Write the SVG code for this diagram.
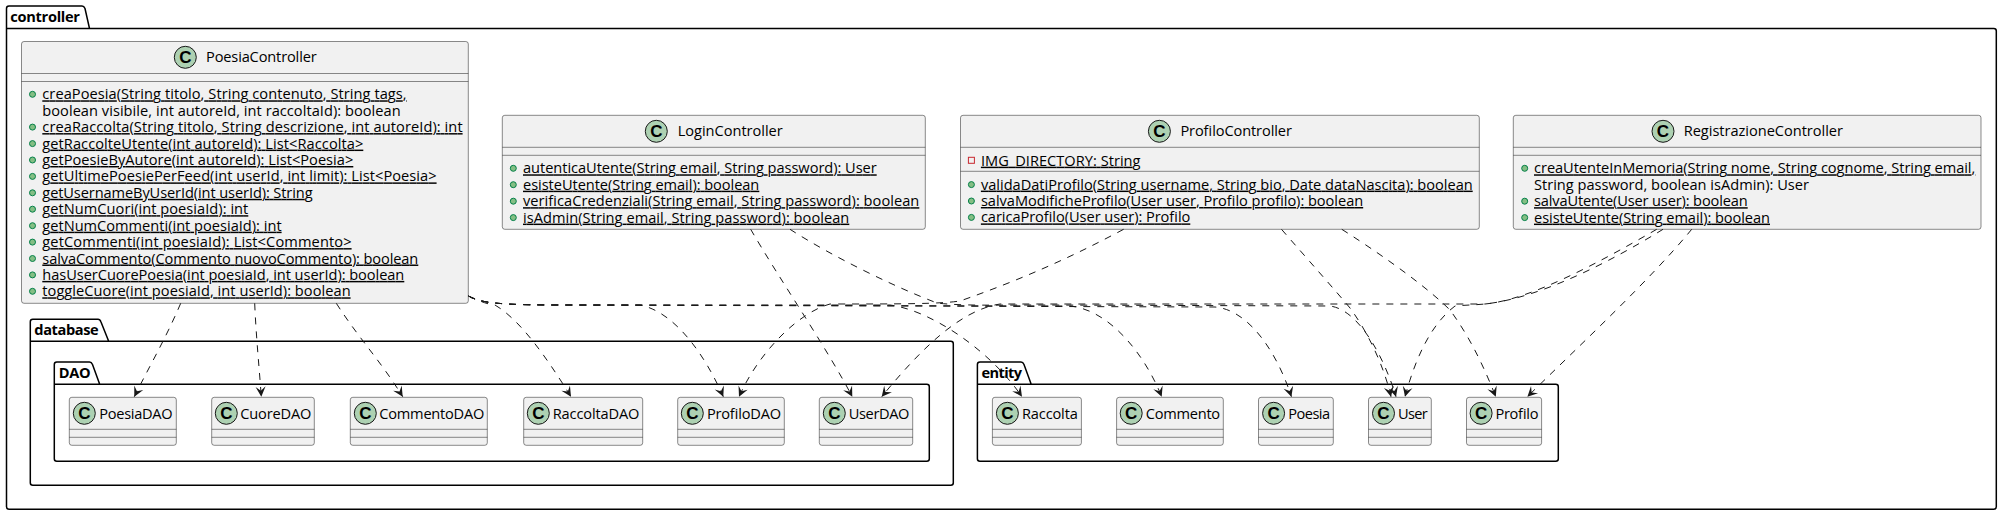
<svg xmlns="http://www.w3.org/2000/svg" width="2004" height="515" viewBox="0 0 2004 515">
<style>
text{font-family:"Open Sans","Noto Sans","Liberation Sans",sans-serif;font-size:14.6px;fill:#000}
.pk{fill:none;stroke:#000;stroke-width:1.5}
.pl{font-weight:700;font-size:14.6px}
.box{fill:#F1F1F1;stroke:#181818;stroke-width:.5}
.sep{stroke:#181818;stroke-width:.5}
.ci{fill:#ADD1B2;stroke:#181818;stroke-width:1}
.cg{font-family:"Liberation Sans",sans-serif;font-weight:700;font-size:17px;text-anchor:middle}
.u{text-decoration:underline;text-decoration-skip-ink:none;text-decoration-thickness:1px;text-underline-offset:1.5px}
.pub{fill:#84BE84;stroke:#038048;stroke-width:1}
.pri{fill:none;stroke:#C82930;stroke-width:1}
.e{fill:none;stroke:#181818;stroke-width:1;stroke-dasharray:7,7;marker-end:url(#a)}
</style>
<defs>
<marker id="a" markerUnits="userSpaceOnUse" markerWidth="12" markerHeight="12" refX="11" refY="6" orient="auto">
<path d="M1,1 L11,6 L1,11 L5,6 Z" fill="#181818"/>
</marker>
</defs>
<rect width="2004" height="515" fill="#fff"/>
<g id="pkg-controller">
<path class="pk" d="M9,6 H82 Q84,6 85,8.5 L89.5,28.5 H1993.8 Q1996.3,28.5 1996.3,31 V506.8 Q1996.3,509.3 1993.8,509.3 H9 Q6.5,509.3 6.5,506.8 V8.5 Q6.5,6 9,6 Z M6.5,28.5 H89.5"/>
<text class="pl" x="10.3" y="21.7" textLength="69.7">controller</text>
</g>
<g id="pkg-database">
<path class="pk" d="M32.8,319.3 H98 Q100,319.3 101,322 L108.7,341.3 H950.8 Q953.3,341.3 953.3,343.8 V482.8 Q953.3,485.3 950.8,485.3 H32.8 Q30.3,485.3 30.3,482.8 V321.8 Q30.3,319.3 32.8,319.3 Z M30.3,341.3 H108.7"/>
<text class="pl" x="34.3" y="335" textLength="64.3">database</text>
</g>
<g id="pkg-DAO">
<path class="pk" d="M56.8,362 H89.5 Q91.5,362 92.5,364.5 L99.7,384.3 H926.8 Q929.3,384.3 929.3,386.8 V458.8 Q929.3,461.3 926.8,461.3 H56.8 Q54.3,461.3 54.3,458.8 V364.5 Q54.3,362 56.8,362 Z M54.3,384.3 H99.7"/>
<text class="pl" x="58.7" y="378" textLength="32">DAO</text>
</g>
<g id="pkg-entity">
<path class="pk" d="M979.9,362 H1021 Q1023,362 1024,364.5 L1031.2,384.3 H1555.8 Q1558.3,384.3 1558.3,386.8 V458.8 Q1558.3,461.3 1555.8,461.3 H979.9 Q977.4,461.3 977.4,458.8 V364.5 Q977.4,362 979.9,362 Z M977.4,384.3 H1031.2"/>
<text class="pl" x="981.4" y="378" textLength="40.7">entity</text>
</g>

<g id="PoesiaController">
<rect class="box" x="21.5" y="41.5" width="446.8" height="261.8" rx="2.5"/>
<line class="sep" x1="21.5" y1="73.5" x2="468.3" y2="73.5"/><line class="sep" x1="21.5" y1="81.5" x2="468.3" y2="81.5"/>
<circle class="ci" cx="185.3" cy="57.3" r="11"/><text class="cg" x="185.3" y="63.3">C</text>
<text x="206" y="62.3" textLength="110.7">PoesiaController</text>
<circle class="pub" cx="32.5" cy="94.3" r="3"/><text class="u" x="42.3" y="99.3" textLength="364.3">creaPoesia(String titolo, String contenuto, String tags,</text>
<text x="42.3" y="115.7" textLength="358.3">boolean visibile, int autoreId, int raccoltaId): boolean</text>
<circle class="pub" cx="32.5" cy="127.1" r="3"/><text class="u" x="42.3" y="132.1" textLength="420.3">creaRaccolta(String titolo, String descrizione, int autoreId): int</text>
<circle class="pub" cx="32.5" cy="143.6" r="3"/><text class="u" x="42.3" y="148.6" textLength="321">getRaccolteUtente(int autoreId): List&lt;Raccolta&gt;</text>
<circle class="pub" cx="32.5" cy="160" r="3"/><text class="u" x="42.3" y="165" textLength="311">getPoesieByAutore(int autoreId): List&lt;Poesia&gt;</text>
<circle class="pub" cx="32.5" cy="176.4" r="3"/><text class="u" x="42.3" y="181.4" textLength="394.3">getUltimePoesiePerFeed(int userId, int limit): List&lt;Poesia&gt;</text>
<circle class="pub" cx="32.5" cy="192.8" r="3"/><text class="u" x="42.3" y="197.8" textLength="270.3">getUsernameByUserId(int userId): String</text>
<circle class="pub" cx="32.5" cy="209.2" r="3"/><text class="u" x="42.3" y="214.2" textLength="206">getNumCuori(int poesiaId): int</text>
<circle class="pub" cx="32.5" cy="225.7" r="3"/><text class="u" x="42.3" y="230.7" textLength="239.3">getNumCommenti(int poesiaId): int</text>
<circle class="pub" cx="32.5" cy="242.1" r="3"/><text class="u" x="42.3" y="247.1" textLength="309.3">getCommenti(int poesiaId): List&lt;Commento&gt;</text>
<circle class="pub" cx="32.5" cy="258.5" r="3"/><text class="u" x="42.3" y="263.5" textLength="376">salvaCommento(Commento nuovoCommento): boolean</text>
<circle class="pub" cx="32.5" cy="274.9" r="3"/><text class="u" x="42.3" y="279.9" textLength="362">hasUserCuorePoesia(int poesiaId, int userId): boolean</text>
<circle class="pub" cx="32.5" cy="291.3" r="3"/><text class="u" x="42.3" y="296.3" textLength="308.3">toggleCuore(int poesiaId, int userId): boolean</text>
</g>

<g id="LoginController">
<rect class="box" x="502.3" y="115.3" width="423" height="114" rx="2.5"/>
<line class="sep" x1="502.3" y1="147.3" x2="925.3" y2="147.3"/><line class="sep" x1="502.3" y1="155.3" x2="925.3" y2="155.3"/>
<circle class="ci" cx="656.3" cy="131.3" r="11"/><text class="cg" x="656.3" y="137.3">C</text>
<text x="677.7" y="136" textLength="105">LoginController</text>
<circle class="pub" cx="513.3" cy="168.3" r="3"/><text class="u" x="523" y="173.3" textLength="353.7">autenticaUtente(String email, String password): User</text>
<circle class="pub" cx="513.3" cy="184.7" r="3"/><text class="u" x="523" y="189.7" textLength="236.3">esisteUtente(String email): boolean</text>
<circle class="pub" cx="513.3" cy="201.2" r="3"/><text class="u" x="523" y="206.2" textLength="396.3">verificaCredenziali(String email, String password): boolean</text>
<circle class="pub" cx="513.3" cy="217.6" r="3"/><text class="u" x="523" y="222.6" textLength="326.3">isAdmin(String email, String password): boolean</text>
</g>

<g id="ProfiloController">
<rect class="box" x="960.5" y="115.3" width="518.8" height="114" rx="2.5"/>
<line class="sep" x1="960.5" y1="147.3" x2="1479.3" y2="147.3"/><line class="sep" x1="960.5" y1="171.3" x2="1479.3" y2="171.3"/>
<circle class="ci" cx="1159.4" cy="131.3" r="11"/><text class="cg" x="1159.4" y="137.3">C</text>
<text x="1180.4" y="136" textLength="111.5">ProfiloController</text>
<rect class="pri" x="968.4" y="157.3" width="6" height="6"/><text class="u" x="980.9" y="165.7" textLength="159.6">IMG_DIRECTORY: String</text>
<circle class="pub" cx="971.4" cy="184.6" r="3"/><text class="u" x="980.9" y="189.6" textLength="491.8">validaDatiProfilo(String username, String bio, Date dataNascita): boolean</text>
<circle class="pub" cx="971.4" cy="201" r="3"/><text class="u" x="980.9" y="206" textLength="382.3">salvaModificheProfilo(User user, Profilo profilo): boolean</text>
<circle class="pub" cx="971.4" cy="217.4" r="3"/><text class="u" x="980.9" y="222.4" textLength="209.4">caricaProfilo(User user): Profilo</text>
</g>

<g id="RegistrazioneController">
<rect class="box" x="1513.3" y="115.3" width="467.7" height="114" rx="2.5"/>
<line class="sep" x1="1513.3" y1="147.3" x2="1981" y2="147.3"/><line class="sep" x1="1513.3" y1="155.3" x2="1981" y2="155.3"/>
<circle class="ci" cx="1663" cy="131.3" r="11"/><text class="cg" x="1663" y="137.3">C</text>
<text x="1683.7" y="136" textLength="159.3">RegistrazioneController</text>
<circle class="pub" cx="1524.7" cy="168.3" r="3"/><text class="u" x="1534" y="173.3" textLength="441.3">creaUtenteInMemoria(String nome, String cognome, String email,</text>
<text x="1534" y="189.7" textLength="275">String password, boolean isAdmin): User</text>
<circle class="pub" cx="1524.7" cy="201.2" r="3"/><text class="u" x="1534" y="206.2" textLength="213.7">salvaUtente(User user): boolean</text>
<circle class="pub" cx="1524.7" cy="217.6" r="3"/><text class="u" x="1534" y="222.6" textLength="236">esisteUtente(String email): boolean</text>
</g>

<g id="PoesiaDAO"><rect class="box" x="69.3" y="397.3" width="107" height="48" rx="2.5"/><line class="sep" x1="69.3" y1="429.3" x2="176.3" y2="429.3"/><line class="sep" x1="69.3" y1="437.3" x2="176.3" y2="437.3"/><circle class="ci" cx="84.3" cy="413.3" r="11"/><text class="cg" x="84.3" y="419.3">C</text><text x="99.3" y="418.7" textLength="73.3">PoesiaDAO</text></g>
<g id="CuoreDAO"><rect class="box" x="211.7" y="397.3" width="102.6" height="48" rx="2.5"/><line class="sep" x1="211.7" y1="429.3" x2="314.3" y2="429.3"/><line class="sep" x1="211.7" y1="437.3" x2="314.3" y2="437.3"/><circle class="ci" cx="226.3" cy="413.3" r="11"/><text class="cg" x="226.3" y="419.3">C</text><text x="240.3" y="418.7" textLength="71">CuoreDAO</text></g>
<g id="CommentoDAO"><rect class="box" x="350.3" y="397.3" width="137" height="48" rx="2.5"/><line class="sep" x1="350.3" y1="429.3" x2="487.3" y2="429.3"/><line class="sep" x1="350.3" y1="437.3" x2="487.3" y2="437.3"/><circle class="ci" cx="365.3" cy="413.3" r="11"/><text class="cg" x="365.3" y="419.3">C</text><text x="379.3" y="418.7" textLength="105">CommentoDAO</text></g>
<g id="RaccoltaDAO"><rect class="box" x="523.7" y="397.3" width="119" height="48" rx="2.5"/><line class="sep" x1="523.7" y1="429.3" x2="642.7" y2="429.3"/><line class="sep" x1="523.7" y1="437.3" x2="642.7" y2="437.3"/><circle class="ci" cx="538.3" cy="413.3" r="11"/><text class="cg" x="538.3" y="419.3">C</text><text x="552.7" y="418.7" textLength="86.7">RaccoltaDAO</text></g>
<g id="ProfiloDAO"><rect class="box" x="677.7" y="397.3" width="106.6" height="48" rx="2.5"/><line class="sep" x1="677.7" y1="429.3" x2="784.3" y2="429.3"/><line class="sep" x1="677.7" y1="437.3" x2="784.3" y2="437.3"/><circle class="ci" cx="692.3" cy="413.3" r="11"/><text class="cg" x="692.3" y="419.3">C</text><text x="707" y="418.7" textLength="74">ProfiloDAO</text></g>
<g id="UserDAO"><rect class="box" x="819.3" y="397.3" width="93.4" height="48" rx="2.5"/><line class="sep" x1="819.3" y1="429.3" x2="912.7" y2="429.3"/><line class="sep" x1="819.3" y1="437.3" x2="912.7" y2="437.3"/><circle class="ci" cx="834.3" cy="413.3" r="11"/><text class="cg" x="834.3" y="419.3">C</text><text x="848.7" y="418.7" textLength="60.7">UserDAO</text></g>
<g id="Raccolta"><rect class="box" x="992.4" y="397.3" width="89" height="48" rx="2.5"/><line class="sep" x1="992.4" y1="429.3" x2="1081.4" y2="429.3"/><line class="sep" x1="992.4" y1="437.3" x2="1081.4" y2="437.3"/><circle class="ci" cx="1007.4" cy="413.3" r="11"/><text class="cg" x="1007.4" y="419.3">C</text><text x="1022" y="418.7" textLength="55.8">Raccolta</text></g>
<g id="Commento"><rect class="box" x="1116.6" y="397.3" width="106.7" height="48" rx="2.5"/><line class="sep" x1="1116.6" y1="429.3" x2="1223.3" y2="429.3"/><line class="sep" x1="1116.6" y1="437.3" x2="1223.3" y2="437.3"/><circle class="ci" cx="1131.2" cy="413.3" r="11"/><text class="cg" x="1131.2" y="419.3">C</text><text x="1145.8" y="418.7" textLength="74.3">Commento</text></g>
<g id="Poesia"><rect class="box" x="1258.5" y="397.3" width="74.8" height="48" rx="2.5"/><line class="sep" x1="1258.5" y1="429.3" x2="1333.3" y2="429.3"/><line class="sep" x1="1258.5" y1="437.3" x2="1333.3" y2="437.3"/><circle class="ci" cx="1273.6" cy="413.3" r="11"/><text class="cg" x="1273.6" y="419.3">C</text><text x="1288.2" y="418.7" textLength="41.9">Poesia</text></g>
<g id="User"><rect class="box" x="1368.5" y="397.3" width="62.8" height="48" rx="2.5"/><line class="sep" x1="1368.5" y1="429.3" x2="1431.3" y2="429.3"/><line class="sep" x1="1368.5" y1="437.3" x2="1431.3" y2="437.3"/><circle class="ci" cx="1383.5" cy="413.3" r="11"/><text class="cg" x="1383.5" y="419.3">C</text><text x="1398.1" y="418.7" textLength="29.7">User</text></g>
<g id="Profilo"><rect class="box" x="1466.5" y="397.3" width="75.1" height="48" rx="2.5"/><line class="sep" x1="1466.5" y1="429.3" x2="1541.6" y2="429.3"/><line class="sep" x1="1466.5" y1="437.3" x2="1541.6" y2="437.3"/><circle class="ci" cx="1481.1" cy="413.3" r="11"/><text class="cg" x="1481.1" y="419.3">C</text><text x="1495.4" y="418.7" textLength="43.1">Profilo</text></g>

<g id="connectors">
<path class="e" d="M180.7,303.3 C165,340 150,365 134.3,396.7"/>
<path class="e" d="M254.7,303.3 C256,335 259,365 261.3,396.7"/>
<path class="e" d="M336.3,303.3 C360,340 380,360 402.7,396.7"/>
<path class="e" d="M468.5,296 C478,300 485,304 495,305 C520,320 545,355 571,396.7"/>
<path class="e" d="M468.5,296 C480,303 500,305 560,305 L640,305 C675,312 705,355 723.3,396.7"/>
<path class="e" d="M468.5,296 C480,303 500,305 560,305 L890,305 C930,310 990,350 1022,396.7"/>
<path class="e" d="M468.5,296 C480,303 500,305 560,305 L1070,306 C1110,310 1145,355 1161.7,396.7"/>
<path class="e" d="M468.5,296 C480,303 500,305 560,305 L1215,307 C1250,310 1278,355 1291.4,396.7"/>
<path class="e" d="M750.7,229.3 C780,280 825,345 852.3,396.7"/>
<path class="e" d="M790,229.3 C830,255 890,285 937,303 C960,306 1000,305 1040,305 L1330,306 C1360,310 1385,360 1396,396.7"/>
<path class="e" d="M1123.6,229.3 C1070,258 1020,280 960,301 C940,304 900,304 830,304 C800,312 760,350 739,396.7"/>
<path class="e" d="M1281.5,229.3 C1310,262 1335,290 1350,308 C1370,335 1385,370 1391,396.7"/>
<path class="e" d="M1341.8,229.3 C1390,260 1430,290 1450,310 C1472,340 1485,370 1495.8,396.7"/>
<path class="e" d="M1656.7,229.3 C1600,262 1530,300 1485,304 L1000,304 C960,310 920,350 881.7,396.7"/>
<path class="e" d="M1663,229.3 C1610,262 1540,298 1485,304 C1475,305 1465,305 1455,306 C1430,325 1415,360 1405,396.7"/>
<path class="e" d="M1691.7,229.3 C1650,280 1580,345 1527.4,396.7"/>
</g>
</svg>
